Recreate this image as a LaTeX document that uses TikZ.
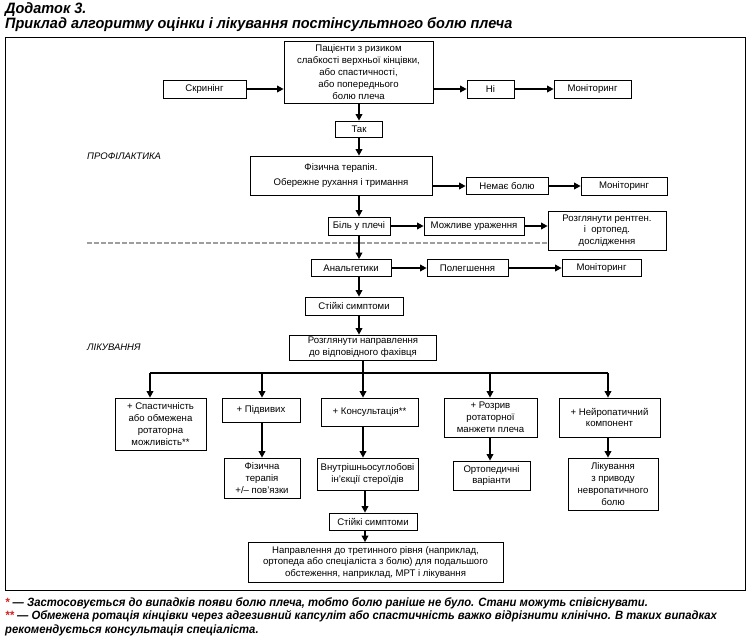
\documentclass[tikz,border=0pt]{standalone}
\usepackage{fontspec}
\setmainfont{Liberation Sans}
\newfontfamily\condfont[FakeStretch=0.965]{Liberation Sans}
\newfontfamily\notefont[FakeStretch=0.94]{Liberation Sans}
\usetikzlibrary{arrows.meta}
\definecolor{dashgray}{gray}{0.62}
\definecolor{starred}{RGB}{215,35,35}
\begin{document}
\begin{tikzpicture}[x=1pt,y=-1pt,
  box/.style={draw,line width=0.7pt,align=center,inner sep=1pt,font=\fontsize{9.6}{11.8}\selectfont},
  sz/.style 2 args={minimum width=#1pt,minimum height=#2pt},
  arr/.style={line width=1.8pt,-{Triangle[length=6.5pt,width=6.5pt]}},
  ln/.style={line width=1.8pt},
  lbl/.style={anchor=west,inner sep=0pt,font=\itshape\fontsize{9.5}{11}\selectfont},
  ttl/.style={anchor=base west,inner sep=0pt,font=\condfont\bfseries\itshape\fontsize{15}{17}\selectfont},
  fn/.style={anchor=base west,inner sep=0pt,font=\notefont\bfseries\itshape\fontsize{12}{13}\selectfont}]
\useasboundingbox (0,0) rectangle (750,635);
% titles
\node[ttl] (t1) at (5,13.5) {Додаток 3.};
\node[ttl] (t2) at (5,28) {Приклад алгоритму оцінки і лікування постінсультного болю плеча};
% frame
\draw[line width=0.8pt] (5,37) rectangle (745,590);
% top part
\node[box,sz={83}{18}] (scr) at (204.5,89) {Скринінг};
\node[box,sz={149}{62}] (pat) at (358.5,72) {Пацієнти з ризиком\\слабкості верхньої кінцівки,\\або спастичності,\\або попереднього\\болю плеча};
\node[box,sz={47}{18}] (ni) at (490.5,89) {Ні};
\node[box,sz={77}{18}] (mon1) at (592.5,89) {Моніторинг};
\node[box,sz={47}{16}] (tak) at (359,129) {Так};
\node[lbl] (prof) at (87,156) {ПРОФІЛАКТИКА};
\node[box,sz={182}{39},font=\fontsize{9.6}{15}\selectfont] (fiz) at (341,175.5) {Фізична терапія.\\Обережне рухання і тримання};
\node[box,sz={82}{17}] (nem) at (507,186) {Немає болю};
\node[box,sz={86}{18}] (mon2) at (624,186) {Моніторинг};
\node[box,sz={62}{18}] (bil) at (359,226) {Біль у плечі};
\node[box,sz={100}{18}] (mozh) at (474,226) {Можливе ураження};
\node[box,sz={118}{39}] (rozg) at (607,230.5) {Розглянути рентген.\\і\ \ ортопед.\\дослідження};
\draw[dashgray,line width=1.2pt,dash pattern=on 5pt off 2pt] (87,243) -- (rozg.west |- 0,243);
\node[box,sz={80}{17}] (anal) at (351,268) {Анальгетики};
\node[box,sz={81}{17}] (pol) at (467.5,268) {Полегшення};
\node[box,sz={79}{17}] (mon3) at (601.5,268) {Моніторинг};
\node[box,sz={98}{18}] (st1) at (354,306) {Стійкі симптоми};
\node[lbl] (lik) at (87,347) {ЛІКУВАННЯ};
\node[box,sz={147}{25}] (napr) at (363,347.5) {Розглянути направлення\\до відповідного фахівця};
% bottom
\node[box,sz={91}{52}] (b1) at (160.5,424) {+ Спастичність\\або обмежена\\ротаторна\\можливість**};
\node[box,sz={78}{24}] (b2) at (261,410) {+ Підвивих};
\node[box,sz={97}{28}] (b3) at (369.5,412) {+ Консультація**};
\node[box,sz={93}{39}] (b4) at (490.5,417.5) {+ Розрив\\ротаторної\\манжети плеча};
\node[box,sz={101}{39}] (b5) at (609.5,417.5) {+ Нейропатичний\\компонент};
\node[box,sz={76}{40}] (c2) at (262,478) {Фізична\\терапія\\+/– пов’язки};
\node[box,sz={101}{32},inner sep=0pt] (c3) at (367.5,474) {Внутрішньосуглобові\\ін’єкції стероїдів};
\node[box,sz={77}{29}] (c4) at (491.5,475.5) {Ортопедичні\\варіанти};
\node[box,sz={90}{52}] (c5) at (613,484) {Лікування\\з приводу\\невропатичного\\болю};
\node[box,sz={88}{17}] (st2) at (373,521.5) {Стійкі симптоми};
\node[box,sz={255}{40}] (fin) at (375.5,562.5) {Направлення до третинного рівня (наприклад,\\ортопеда або спеціаліста з болю) для подальшого\\обстеження, наприклад, МРТ і лікування};
% footnotes
\node[fn] (f1) at (5,606) {\textcolor{starred}{*} — Застосовується до випадків появи болю плеча, тобто болю раніше не було. Стани можуть співіснувати.};
\node[fn] (f2) at (5,619.5) {\textcolor{starred}{**} — Обмежена ротація кінцівки через адгезивний капсуліт або спастичність важко відрізнити клінічно. В таких випадках};
\node[fn] (f3) at (5,633) {рекомендується консультація спеціаліста.};
% connectors top
\draw[arr] (scr.east) -- (pat.west |- scr.east);
\draw[arr] (pat.east |- ni.west) -- (ni.west);
\draw[arr] (ni.east) -- (mon1.west);
\draw[arr] (tak.north |- pat.south) -- (tak.north);
\draw[arr] (tak.south) -- (tak.south |- fiz.north);
\draw[arr] (fiz.east |- nem.west) -- (nem.west);
\draw[arr] (nem.east) -- (mon2.west |- nem.east);
\draw[arr] (fiz.south -| bil.north) -- (bil.north);
\draw[arr] (bil.east) -- (mozh.west);
\draw[arr] (mozh.east) -- (rozg.west |- mozh.east);
\draw[arr] (bil.south) -- (bil.south |- anal.north);
\draw[arr] (anal.east) -- (pol.west);
\draw[arr] (pol.east) -- (mon3.west);
\draw[arr] (anal.south -| bil.south) -- (st1.north -| bil.south);
\draw[arr] (st1.south -| bil.south) -- (napr.north -| bil.south);
% branches
\coordinate (j1) at (150,373);
\coordinate (j2) at (262,373);
\coordinate (j4) at (490,373);
\coordinate (j5) at (608,373);
\draw[ln] (j1) -- (j5);
\draw[arr] (napr.south) -- (napr.south |- b3.north);
\draw[arr] (j1) -- (j1 |- b1.north);
\draw[arr] (j2) -- (j2 |- b2.north);
\draw[arr] (j4) -- (j4 |- b4.north);
\draw[arr] (j5) -- (j5 |- b5.north);
\draw[arr] (b2.south -| j2) -- (c2.north -| j2);
\draw[arr] (b3.south -| napr.south) -- (c3.north -| napr.south);
\draw[arr] (b4.south -| j4) -- (c4.north -| j4);
\draw[arr] (b5.south -| j5) -- (c5.north -| j5);
\draw[arr] (c3.south -| 365,0) -- (st2.north -| 365,0);
\draw[arr] (st2.south -| 365,0) -- (fin.north -| 365,0);
\end{tikzpicture}
\end{document}
